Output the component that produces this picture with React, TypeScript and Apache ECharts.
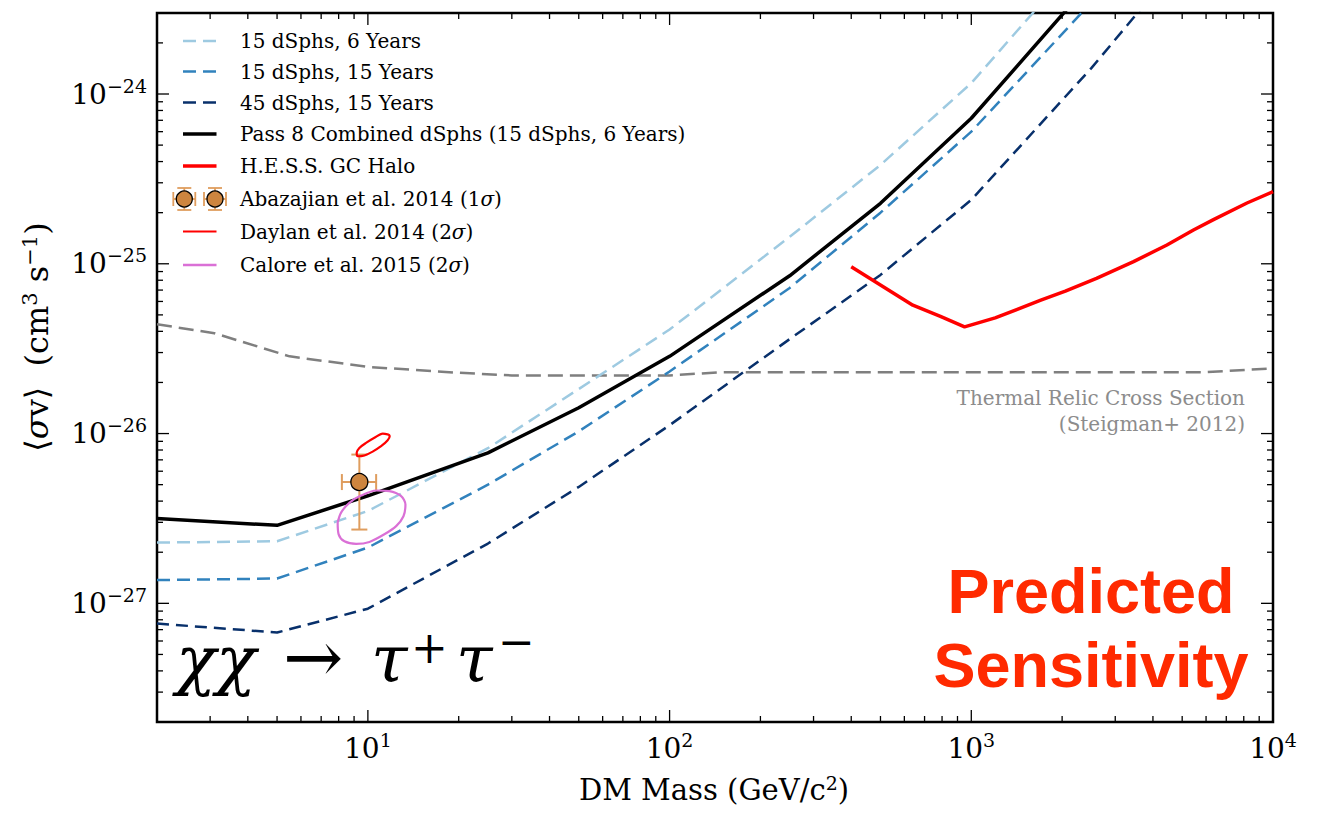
import React, { useEffect, useRef } from 'react';
import * as echarts from 'echarts';

// ---------------- data ----------------
const massGrid = [2, 5, 10, 25, 50, 100, 250, 500, 1000, 2500, 5000];
const sigmaV15dSph6yr = [2.28e-27, 2.32e-27, 3.5e-27, 8.2e-27, 1.83e-26, 4.1e-26, 1.44e-25, 3.82e-25, 1.16e-24, 7.4e-24];
const sigmaV15dSph15yr = [1.37e-27, 1.4e-27, 2.13e-27, 5.0e-27, 1.03e-26, 2.32e-26, 7.2e-26, 2.0e-25, 6.0e-25, 3.46e-24];
const sigmaV45dSph15yr = [7.6e-28, 6.73e-28, 9.3e-28, 2.25e-27, 4.85e-27, 1.12e-26, 3.6e-26, 8.6e-26, 2.38e-25, 1.42e-24, 6.2e-24];
const sigmaVPass8 = [3.16e-27, 2.88e-27, 4.3e-27, 7.7e-27, 1.42e-26, 2.85e-26, 8.5e-26, 2.27e-25, 7.2e-25, 4.6e-24];

const hessMass = [400, 640, 790, 950, 1200, 1700, 2050, 2600, 3450, 4450, 5450, 6350, 8200, 10000];
const hessSigmaV = [9.6e-26, 5.7e-26, 4.9e-26, 4.25e-26, 4.8e-26, 6.1e-26, 6.9e-26, 8.2e-26, 1.03e-25, 1.29e-25, 1.58e-25, 1.82e-25, 2.28e-25, 2.66e-25];

const relicMass = [2, 3.1, 5.5, 10, 20, 30, 100, 150, 6000, 10000];
const relicSigmaV = [4.4e-26, 3.9e-26, 2.85e-26, 2.47e-26, 2.28e-26, 2.2e-26, 2.2e-26, 2.3e-26, 2.3e-26, 2.42e-26];

const daylanMass = [11.72, 11.2, 10.51, 9.86, 9.37, 9.18, 9.25, 9.74, 10.37, 11.06, 11.63, 11.81, 11.72];
const daylanSigmaV = [9.86e-27, 1.0e-26, 9.44e-27, 8.81e-27, 8.23e-27, 7.7e-27, 7.35e-27, 7.43e-27, 7.83e-27, 8.42e-27, 9.14e-27, 9.64e-27, 9.86e-27];

const caloreMass = [7.94, 8.15, 8.68, 9.49, 10.65, 11.78, 12.89, 13.32, 13.12, 12.41, 11.34, 10.12, 9.14, 8.36, 8.0, 7.94];
const caloreSigmaV = [2.99e-27, 3.42e-27, 3.91e-27, 4.31e-27, 4.62e-27, 4.58e-27, 4.28e-27, 3.82e-27, 3.26e-27, 2.85e-27, 2.55e-27, 2.3e-27, 2.24e-27, 2.32e-27, 2.55e-27, 2.99e-27];

// Abazajian et al. 2014: [mass, sigmaV, massLow, massHigh, sigmaVLow, sigmaVHigh]
const abazajianPoint = [9.37, 5.18e-27, 8.2, 10.65, 2.72e-27, 7.52e-27];

const xRange = [2, 10000];
const yRange = [2e-28, 3e-24];
const xMajorTicks = [10, 100, 1000, 10000];
const yMajorTicks = [1e-27, 1e-26, 1e-25, 1e-24];
const minorMantissas = [2, 3, 4, 5, 6, 7, 8, 9];
const xDecades = [1, 10, 100, 1000];
const yDecades = [1e-28, 1e-27, 1e-26, 1e-25, 1e-24];

const legendLabels = [
  '15 dSphs, 6 Years',
  '15 dSphs, 15 Years',
  '45 dSphs, 15 Years',
  'Pass 8 Combined dSphs (15 dSphs, 6 Years)',
  'H.E.S.S. GC Halo',
  'Abazajian et al. 2014 (1{i|σ})',
  'Daylan et al. 2014 (2{i|σ})',
  'Calore et al. 2015 (2{i|σ})',
];

const xTitle = '{r|DM Mass (GeV/c}{s|2}{r|)}';
const yTitle = '{r|⟨}{i|σ}{r|v⟩  (cm}{s|3}{r| s}{s|−1}{r|)}';
const relicNote = ['Thermal Relic Cross Section', '(Steigman+ 2012)'];
const channelParts = ['χχ', '→', 'τ', '+', 'τ', '−'];
const stamp = ['Predicted', 'Sensitivity'];

// ---------------- styles ----------------
const SERIF = 'DejaVu Serif';
const C_LIGHT = '#9ecae1';
const C_MED = '#3182bd';
const C_DARK = '#08306b';
const C_RED = '#ff0000';
const C_ORCHID = '#da70d6';
const C_PERU = '#cd853f';
const C_ERR = '#df9d5e';

const pair = (ms: number[], vs: number[]) => vs.map((v, i) => [ms[i], v]);

const decadeLabel = (v: number) => {
  const l = Math.log10(v);
  const e = Math.round(l);
  if (Math.abs(l - e) > 1e-6) return '';
  return `{b|10}{s|${e < 0 ? '−' + -e : e}}`;
};

const labelRich = {
  b: { fontFamily: SERIF, fontSize: 28, lineHeight: 36, color: '#000' },
  s: { fontFamily: SERIF, fontSize: 19, lineHeight: 19, verticalAlign: 'top', color: '#000' },
};

function buildTicks(major: number[], decades: number[], range: number[]) {
  const out: number[][] = [];
  major.forEach((v) => out.push([v, 1]));
  decades.forEach((d) =>
    minorMantissas.forEach((k) => {
      const v = k * d;
      if (v > range[0] * 1.0001 && v < range[1] * 0.9999) out.push([v, 0]);
    })
  );
  return out;
}

export default function App() {
  const ref = useRef<HTMLDivElement>(null);
  useEffect(() => {
    if (!ref.current) return;
    const chart = echarts.init(ref.current, undefined, { renderer: 'svg' });

    const xTicks = buildTicks(xMajorTicks, xDecades, xRange).map((t) => [t[0], yRange[0], t[1]]);
    const yTicks = buildTicks(yMajorTicks, yDecades, yRange).map((t) => [xRange[0], t[0], t[1]]);

    const tickStyle = { stroke: '#000', lineWidth: 1.3 };

    const legendRowsY = [41, 71.5, 102.5, 134, 166, 199, 231.5, 265];
    const legendIcon = [
      { color: C_LIGHT, width: 2.5, dash: [13, 7] },
      { color: C_MED, width: 2.5, dash: [13, 7] },
      { color: C_DARK, width: 2.5, dash: [13, 7] },
      { color: '#000', width: 3.5, dash: null },
      { color: C_RED, width: 3.5, dash: null },
      null,
      { color: C_RED, width: 2.2, dash: null },
      { color: C_ORCHID, width: 2.5, dash: null },
    ];

    const legendGraphics: any[] = [];
    legendLabels.forEach((lab, i) => {
      const y = legendRowsY[i];
      const ic = legendIcon[i];
      if (ic) {
        legendGraphics.push({
          type: 'line',
          shape: { x1: 183, y1: y, x2: 216.5, y2: y },
          style: { stroke: ic.color, lineWidth: ic.width, lineDash: ic.dash || undefined },
          z: 100,
        });
      } else {
        [184.3, 215].forEach((cx) => {
          const st = { stroke: C_ERR, lineWidth: 1.8 };
          legendGraphics.push(
            { type: 'line', shape: { x1: cx - 11, y1: y, x2: cx + 11, y2: y }, style: st, z: 100 },
            { type: 'line', shape: { x1: cx, y1: y - 11, x2: cx, y2: y + 11 }, style: st, z: 100 },
            { type: 'line', shape: { x1: cx - 11, y1: y - 7, x2: cx - 11, y2: y + 7 }, style: st, z: 100 },
            { type: 'line', shape: { x1: cx + 11, y1: y - 7, x2: cx + 11, y2: y + 7 }, style: st, z: 100 },
            { type: 'line', shape: { x1: cx - 7, y1: y - 11, x2: cx + 7, y2: y - 11 }, style: st, z: 100 },
            { type: 'line', shape: { x1: cx - 7, y1: y + 11, x2: cx + 7, y2: y + 11 }, style: st, z: 100 },
            { type: 'circle', shape: { cx, cy: y, r: 8 }, style: { fill: C_PERU, stroke: '#000', lineWidth: 1.3 }, z: 101 }
          );
        });
      }
      legendGraphics.push({
        type: 'text',
        x: 240,
        y,
        style: {
          text: lab,
          fontFamily: SERIF,
          fontSize: 20,
          fill: '#000',
          verticalAlign: 'middle',
          align: 'left',
          rich: { i: { fontFamily: SERIF, fontStyle: 'italic', fontSize: 20 } },
        },
        z: 100,
      });
    });

    // χχ → τ+τ− annotation pieces: [x, y, fontSize, italic]
    const channelLayout = [
      [176, 659, 66, 1],
      [283, 657, 72, 0],
      [371, 659, 66, 1],
      [411, 647, 44, 0],
      [456, 659, 66, 1],
      [498, 641, 44, 0],
    ];
    const channelGraphics = channelParts.map((t, i) => {
      const [x, y, fs, it] = channelLayout[i];
      return {
        type: 'text',
        x,
        y,
        style: {
          text: t,
          align: 'left',
          verticalAlign: 'middle',
          fontFamily: SERIF,
          fontStyle: it ? 'italic' : 'normal',
          fontSize: fs,
          fill: '#000',
        },
        z: 50,
      };
    });

    const option: any = {
      animation: false,
      backgroundColor: '#fff',
      grid: {
        left: 157,
        right: 47,
        top: 13,
        bottom: 91,
        show: true,
        borderColor: '#000',
        borderWidth: 2.5,
        backgroundColor: 'transparent',
        outerBoundsMode: 'none',
      },
      xAxis: {
        type: 'log',
        logBase: 10,
        min: xRange[0],
        max: xRange[1],
        axisLine: { show: false },
        axisTick: { show: false },
        splitLine: { show: false },
        minorTick: { show: false },
        axisLabel: { formatter: decadeLabel, margin: 8, rich: labelRich, color: '#000', showMinLabel: false },
      },
      yAxis: {
        type: 'log',
        logBase: 10,
        min: yRange[0],
        max: yRange[1],
        axisLine: { show: false },
        axisTick: { show: false },
        splitLine: { show: false },
        minorTick: { show: false },
        axisLabel: {
          formatter: decadeLabel,
          margin: 10,
          rich: labelRich,
          color: '#000',
          showMinLabel: false,
          showMaxLabel: false,
        },
      },
      series: [
        {
          name: 'Thermal Relic',
          type: 'line',
          data: pair(relicMass, relicSigmaV),
          symbol: 'none',
          lineStyle: { color: '#7f7f7f', width: 2.5, type: [15, 7] },
          z: 2,
        },
        {
          name: legendLabels[0],
          type: 'line',
          data: pair(massGrid, sigmaV15dSph6yr),
          symbol: 'none',
          lineStyle: { color: C_LIGHT, width: 2.5, type: [13, 7] },
          z: 3,
        },
        {
          name: legendLabels[1],
          type: 'line',
          data: pair(massGrid, sigmaV15dSph15yr),
          symbol: 'none',
          lineStyle: { color: C_MED, width: 2.5, type: [13, 7] },
          z: 3,
        },
        {
          name: legendLabels[2],
          type: 'line',
          data: pair(massGrid, sigmaV45dSph15yr),
          symbol: 'none',
          lineStyle: { color: C_DARK, width: 2.5, type: [12, 7] },
          z: 3,
        },
        {
          name: legendLabels[3],
          type: 'line',
          data: pair(massGrid, sigmaVPass8),
          symbol: 'none',
          lineStyle: { color: '#000', width: 3.5 },
          z: 4,
        },
        {
          name: legendLabels[4],
          type: 'line',
          data: pair(hessMass, hessSigmaV),
          symbol: 'none',
          lineStyle: { color: C_RED, width: 3.5 },
          z: 4,
        },
        {
          name: 'Abazajian error',
          type: 'custom',
          data: [abazajianPoint],
          encode: { x: [0, 2, 3], y: [1, 4, 5] },
          z: 5,
          silent: true,
          renderItem: (params: any, api: any) => {
            const m = api.value(0);
            const s = api.value(1);
            const l = api.coord([api.value(2), s]);
            const r = api.coord([api.value(3), s]);
            const b = api.coord([m, api.value(4)]);
            const t = api.coord([m, api.value(5)]);
            const cap = 8;
            const st = { stroke: C_ERR, lineWidth: 2 };
            return {
              type: 'group',
              children: [
                { type: 'line', shape: { x1: l[0], y1: l[1], x2: r[0], y2: r[1] }, style: st },
                { type: 'line', shape: { x1: b[0], y1: b[1], x2: t[0], y2: t[1] }, style: st },
                { type: 'line', shape: { x1: l[0], y1: l[1] - cap, x2: l[0], y2: l[1] + cap }, style: st },
                { type: 'line', shape: { x1: r[0], y1: r[1] - cap, x2: r[0], y2: r[1] + cap }, style: st },
                { type: 'line', shape: { x1: b[0] - cap, y1: b[1], x2: b[0] + cap, y2: b[1] }, style: st },
                { type: 'line', shape: { x1: t[0] - cap, y1: t[1], x2: t[0] + cap, y2: t[1] }, style: st },
              ],
            };
          },
        },
        {
          name: legendLabels[6],
          type: 'line',
          data: pair(daylanMass, daylanSigmaV),
          symbol: 'none',
          smooth: 0.3,
          lineStyle: { color: C_RED, width: 2.2 },
          z: 6,
        },
        {
          name: legendLabels[7],
          type: 'line',
          data: pair(caloreMass, caloreSigmaV),
          symbol: 'none',
          smooth: 0.3,
          lineStyle: { color: C_ORCHID, width: 2.2 },
          z: 6,
        },
        {
          name: legendLabels[5],
          type: 'scatter',
          data: [[abazajianPoint[0], abazajianPoint[1]]],
          symbol: 'circle',
          symbolSize: 17,
          itemStyle: { color: C_PERU, borderColor: '#000', borderWidth: 1.3, opacity: 1 },
          z: 7,
        },
        {
          name: 'xticks',
          type: 'custom',
          data: xTicks,
          encode: { x: 0, y: 1 },
          silent: true,
          z: 20,
          renderItem: (params: any, api: any) => {
            const p = api.coord([api.value(0), api.value(1)]);
            const cs = params.coordSys;
            const len = api.value(2) ? 12 : 6;
            const bottom = cs.y + cs.height;
            return {
              type: 'group',
              children: [
                { type: 'line', shape: { x1: p[0], y1: bottom, x2: p[0], y2: bottom - len }, style: tickStyle },
                { type: 'line', shape: { x1: p[0], y1: cs.y, x2: p[0], y2: cs.y + len }, style: tickStyle },
              ],
            };
          },
        },
        {
          name: 'yticks',
          type: 'custom',
          data: yTicks,
          encode: { x: 0, y: 1 },
          silent: true,
          z: 20,
          renderItem: (params: any, api: any) => {
            const p = api.coord([api.value(0), api.value(1)]);
            const cs = params.coordSys;
            const len = api.value(2) ? 12 : 6;
            const right = cs.x + cs.width;
            return {
              type: 'group',
              children: [
                { type: 'line', shape: { x1: cs.x, y1: p[1], x2: cs.x + len, y2: p[1] }, style: tickStyle },
                { type: 'line', shape: { x1: right, y1: p[1], x2: right - len, y2: p[1] }, style: tickStyle },
              ],
            };
          },
        },
      ],
      graphic: [
        ...legendGraphics,
        ...channelGraphics,
        {
          type: 'text',
          x: 714,
          y: 790,
          style: {
            text: xTitle,
            align: 'center',
            verticalAlign: 'middle',
            fill: '#000',
            rich: {
              r: { fontFamily: SERIF, fontSize: 29, lineHeight: 34, fill: '#000' },
              s: { fontFamily: SERIF, fontSize: 19, lineHeight: 20, verticalAlign: 'top', fill: '#000' },
            },
          },
        },
        {
          type: 'text',
          x: 37,
          y: 337,
          rotation: Math.PI / 2,
          style: {
            text: yTitle,
            align: 'center',
            verticalAlign: 'middle',
            fill: '#000',
            rich: {
              r: { fontFamily: SERIF, fontSize: 32, lineHeight: 36, fill: '#000' },
              i: { fontFamily: SERIF, fontStyle: 'italic', fontSize: 32, lineHeight: 36, fill: '#000' },
              s: { fontFamily: SERIF, fontSize: 21, lineHeight: 21, verticalAlign: 'top', fill: '#000' },
            },
          },
        },
        {
          type: 'text',
          x: 1245,
          y: 398,
          style: { text: relicNote[0], align: 'right', verticalAlign: 'middle', fontFamily: SERIF, fontSize: 20, fill: '#8c8c8c' },
        },
        {
          type: 'text',
          x: 1245,
          y: 424,
          style: { text: relicNote[1], align: 'right', verticalAlign: 'middle', fontFamily: SERIF, fontSize: 20, fill: '#8c8c8c' },
        },
        {
          type: 'text',
          x: 1091,
          y: 591,
          style: {
            text: stamp[0],
            align: 'center',
            verticalAlign: 'middle',
            fontFamily: 'Liberation Sans',
            fontWeight: 'bold',
            fontSize: 63,
            fill: '#ff2a00',
          },
        },
        {
          type: 'text',
          x: 1091,
          y: 665,
          style: {
            text: stamp[1],
            align: 'center',
            verticalAlign: 'middle',
            fontFamily: 'Liberation Sans',
            fontWeight: 'bold',
            fontSize: 63,
            fill: '#ff2a00',
          },
        },
      ],
    };

    chart.setOption(option);
    return () => chart.dispose();
  }, []);

  return (
    <div
      ref={ref}
      style={{ position: 'absolute', left: 0, top: 0, width: 1320, height: 813, background: '#fff' }}
    />
  );
}
